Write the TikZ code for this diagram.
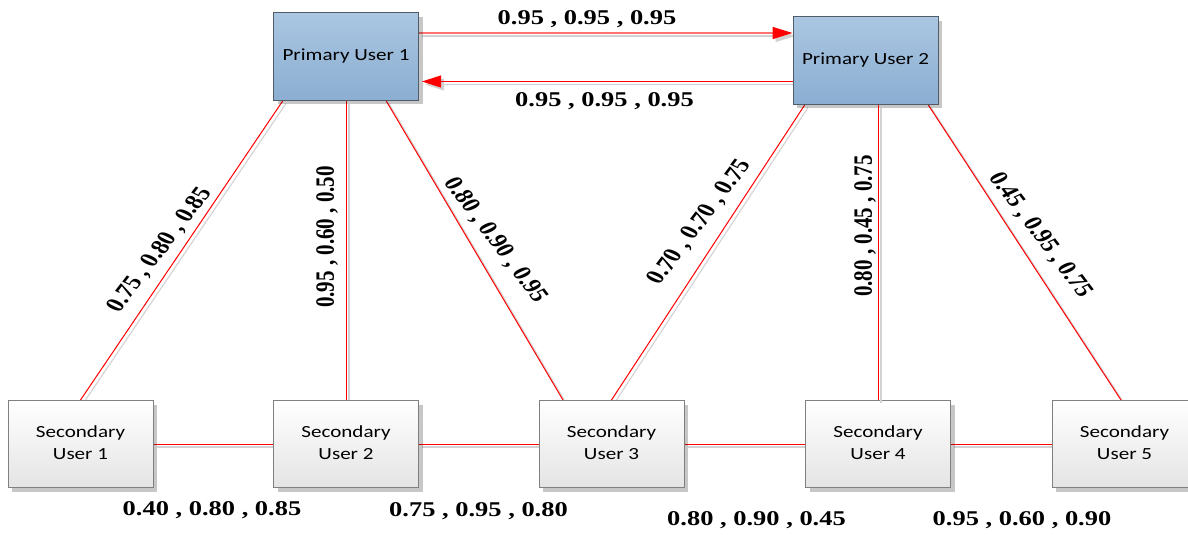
\documentclass[tikz,border=0pt]{standalone}
\usepackage{fontspec}
\setmainfont{Liberation Serif}
\newfontfamily\boxfont{Carlito}
\usetikzlibrary{arrows.meta,shadows,calc}

\definecolor{ptop}{HTML}{AAC6E1}
\definecolor{pbot}{HTML}{8BAED2}
\definecolor{pborder}{HTML}{505C68}
\definecolor{sbot}{HTML}{E4E4E4}
\definecolor{sborder}{HTML}{808080}
\definecolor{shade}{HTML}{D2D2D2}

\pgfdeclarelayer{background}
\pgfsetlayers{background,main}

% text inside the user boxes, widened a little
\newcommand\boxtext[1]{\scalebox{1.24}[1]{\begin{tabular}{@{}c@{}}#1\end{tabular}}}
% weight triple: name, x, y, angle, text
\newcommand\wlabel[5]{%
  \begin{scope}[shift={(#2,#3)}, xscale=1.26]
    \node[wt, rotate=#4] (#1) at (0,0) {#5};
  \end{scope}}
% link with its light grey offset shade
\newcommand\linkdraw[2]{%
  \draw[linkshade] #1 -- #2;
  \draw[link] #1 -- #2;}

\tikzset{
  userbox/.style={draw, line width=1pt, minimum width=145pt, minimum height=87pt,
    inner sep=0pt, font=\boxfont\fontsize{17}{21.7}\selectfont,
    drop shadow={shadow xshift=4pt, shadow yshift=-4pt, fill=black, opacity=0.22}},
  primbox/.style={userbox, draw=pborder, top color=ptop, bottom color=pbot},
  secbox/.style={userbox, draw=sborder, top color=white, bottom color=sbot},
  link/.style={draw=red, line width=1pt},
  linkshade/.style={draw=shade, line width=1.1pt,
    transform canvas={xshift=3pt, yshift=-3pt}},
  wt/.style={inner sep=0pt, transform shape,
    font=\fontsize{21}{24}\selectfont\bfseries},
}

\begin{document}
\begin{tikzpicture}[x=1pt, y=-1pt]
\useasboundingbox (0,0) rectangle (1188,535);

% users
\node[primbox] (pu1) at (346,56.5)  {\boxtext{Primary User 1}};
\node[primbox] (pu2) at (865.5,60.5) {\boxtext{Primary User 2}};
\node[secbox] (su1) at (80.5,444)  {\boxtext{Secondary\\User 1}};
\node[secbox] (su2) at (346,444)   {\boxtext{Secondary\\User 2}};
\node[secbox] (su3) at (611.5,444) {\boxtext{Secondary\\User 3}};
\node[secbox] (su4) at (878,444)   {\boxtext{Secondary\\User 4}};
\node[secbox] (su5) at (1124.5,444) {\boxtext{Secondary\\User 5}};

\begin{pgfonlayer}{background}
  % primary to primary
  \draw[linkshade, -{Triangle[length=20pt,width=12pt]}]
    ([yshift=23.5pt]pu1.east) -- ([yshift=23.5pt]pu1.east -| pu2.west);
  \draw[draw=red!55, line width=1.6pt,
        -{Triangle[length=20pt,width=12pt,fill=red,color=red]}]
    ([yshift=23.5pt]pu1.east) -- ([yshift=23.5pt]pu1.east -| pu2.west);
  \draw[linkshade, shorten >=3pt, -{Triangle[length=19pt,width=12pt]}]
    ([yshift=-25pt]pu1.east -| pu2.west) -- ([yshift=-25pt]pu1.east);
  \draw[link, shorten >=3pt, -{Triangle[length=19pt,width=12pt]}]
    ([yshift=-25pt]pu1.east -| pu2.west) -- ([yshift=-25pt]pu1.east);

  % primary to secondary
  \linkdraw{([xshift=-63pt]pu1.south)}{(su1.north)}
  \linkdraw{(pu1.south)}{(su2.north)}
  \linkdraw{([xshift=40pt]pu1.south)}{([xshift=-48.5pt]su3.north)}
  \linkdraw{([xshift=-60.5pt]pu2.south)}{(su3.north)}
  \linkdraw{([xshift=62.5pt]pu2.south)}{([xshift=-3.5pt]su5.north)}

  % secondary chain
  \linkdraw{(su1.east)}{(su2.west)}
  \linkdraw{(su2.east)}{(su3.west)}
  \linkdraw{(su3.east)}{(su4.west)}
  \linkdraw{(su4.east)}{(su5.west)}
\end{pgfonlayer}
\linkdraw{(su4.north |- pu2.south)}{(su4.north)}

% weights
\wlabel{w12}{587}{19}{0}{0.95 , 0.95 , 0.95}
\wlabel{w21}{604.5}{100.7}{0}{0.95 , 0.95 , 0.95}
\wlabel{wp1s1}{160}{250}{58.7}{0.75 , 0.80 , 0.85}
\wlabel{wp1s2}{327}{237}{90}{0.95 , 0.60 , 0.50}
\wlabel{wp1s3}{495}{240}{-59}{0.80 , 0.90 , 0.95}
\wlabel{wp2s3}{700}{222}{59}{0.70 , 0.70 , 0.75}
\wlabel{wp2s4}{865}{226}{90}{0.80 , 0.45 , 0.75}
\wlabel{wp2s5}{1040}{235}{-59}{0.45 , 0.95 , 0.75}
\wlabel{ws12}{212}{510.5}{0}{0.40 , 0.80 , 0.85}
\wlabel{ws23}{478.5}{511}{0}{0.75 , 0.95 , 0.80}
\wlabel{ws34}{756.5}{520.5}{0}{0.80 , 0.90 , 0.45}
\wlabel{ws45}{1022}{520.5}{0}{0.95 , 0.60 , 0.90}
\end{tikzpicture}
\end{document}
